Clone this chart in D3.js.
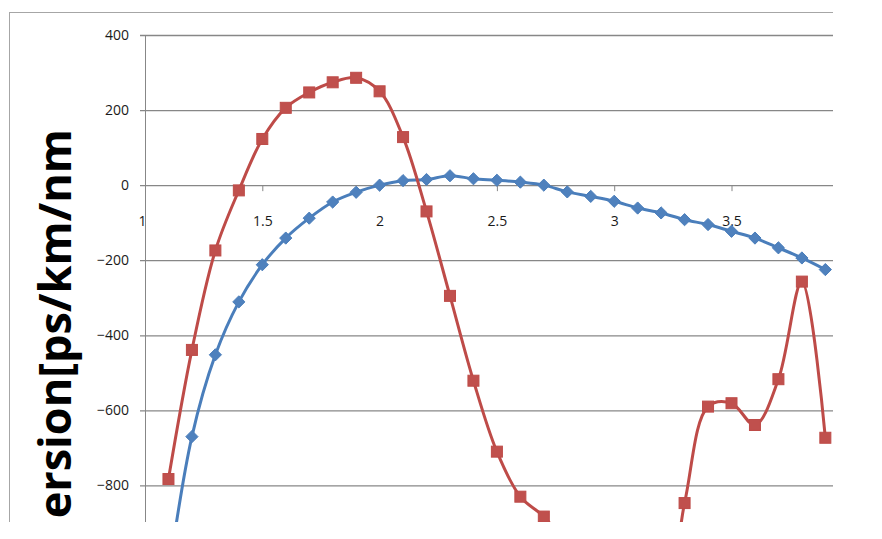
<!DOCTYPE html>
<html>
<head>
<meta charset="utf-8">
<script src="https://cdn.jsdelivr.net/npm/d3@7"></script>
<style>
  html, body { margin: 0; padding: 0; background: #fff; }
  svg { display: block; }
</style>
</head>
<body>
<svg id="chart" width="882" height="539"></svg>
<script>
// ---- data ----
const xValues = [1.1, 1.2, 1.3, 1.4, 1.5, 1.6, 1.7, 1.8, 1.9, 2.0, 2.1, 2.2, 2.3, 2.4, 2.5,
                 2.6, 2.7, 2.8, 2.9, 3.0, 3.1, 3.2, 3.3, 3.4, 3.5, 3.6, 3.7, 3.8, 3.9];
const redValues = [-783, -439, -174, -14, 123, 206, 247, 274, 286, 250, 128, -70, -295, -521, -710,
                   -830, -883, -960, -1040, -1100, -1150, -1160, -847, -590, -581, -639, -517, -257, -673];
const blueValues = [-1040, -670, -452, -311, -212, -141, -88, -45, -19, 0, 12, 15, 25, 17, 13,
                    8, 0, -18, -30, -43, -61, -74, -92, -105, -123, -141, -167, -194, -225];
const yTicks = [400, 200, 0, -200, -400, -600, -800];
const xTicks = [1, 1.5, 2, 2.5, 3, 3.5];
const xTickLabels = ["1", "1.5", "2", "2.5", "3", "3.5"];
const yTitle = "ersion[ps/km/nm";

// ---- layout ----
const svg = d3.select("#chart");
const visW = 833, visH = 522;       // visible (cropped) area
const x = d3.scaleLinear().domain([1, 4]).range([145, 848.8]);
const y = d3.scaleLinear().domain([-1000, 400]).range([560.5, 35]);

svg.append("defs").append("clipPath").attr("id", "crop")
  .append("rect").attr("x", 0).attr("y", 0).attr("width", visW).attr("height", visH);

const g = svg.append("g").attr("clip-path", "url(#crop)");

// outer chart border (top and left visible)
g.append("rect").attr("x", 9.5).attr("y", 12.5)
  .attr("width", 900).attr("height", 600)
  .attr("fill", "none").attr("stroke", "#a6a6a6").attr("stroke-width", 1);

// horizontal gridlines + y axis ticks/labels
const yAxis = d3.axisLeft(y).tickValues(yTicks).tickSize(-(x.range()[1] - x.range()[0]))
  .tickSizeOuter(0).tickFormat(d3.format("d"));
const yG = g.append("g").attr("transform", `translate(${x(1)},0)`).call(yAxis);
yG.select(".domain").attr("stroke", "#878787");
yG.selectAll(".tick line").attr("stroke", "#878787").attr("stroke-width", 1.3)
  .attr("x1", -5);
yG.selectAll(".tick text").attr("fill", "#1a1a1a").style("font-family", "'Open Sans', 'DejaVu Sans', sans-serif")
  .style("font-size", "14px").attr("x", -16);

// x axis at y=0
const xAxis = d3.axisBottom(x).tickValues(xTicks).tickSize(6).tickSizeOuter(0).tickPadding(25)
  .tickFormat((d, i) => xTickLabels[i]);
const xG = g.append("g").attr("transform", `translate(0,${y(0)})`).call(xAxis);
xG.select(".domain").remove();
xG.selectAll(".tick line").attr("stroke", "#878787");
xG.selectAll(".tick text").attr("fill", "#1a1a1a").style("font-family", "'Open Sans', 'DejaVu Sans', sans-serif")
  .style("font-size", "14px");
xG.selectAll(".tick").filter(d => d === 1).select("text").attr("dx", -3);

// series
const line = d3.line().x(d => x(d[0])).y(d => y(d[1])).curve(d3.curveCatmullRom.alpha(0.5));
const blueData = xValues.map((v, i) => [v, blueValues[i]]);
const redData = xValues.map((v, i) => [v, redValues[i]]);
const blue = "#4a7ebb", red = "#be4b48";

g.append("path").datum(blueData).attr("d", line).attr("fill", "none")
  .attr("stroke", blue).attr("stroke-width", 3);
g.append("path").datum(redData).attr("d", line).attr("fill", "none")
  .attr("stroke", red).attr("stroke-width", 3);

g.selectAll(".dia").data(blueData).enter().append("path")
  .attr("d", d3.symbol().type(d3.symbolDiamond2).size(95))
  .attr("transform", d => `translate(${x(d[0])},${y(d[1])})`)
  .attr("fill", "#4f81bd").attr("stroke", blue).attr("stroke-width", 1);

g.selectAll(".sq").data(redData).enter().append("rect")
  .attr("x", d => x(d[0]) - 5.5).attr("y", d => y(d[1]) - 5.5)
  .attr("width", 11).attr("height", 11)
  .attr("fill", "#c0504d").attr("stroke", red).attr("stroke-width", 1);

// y axis title (cropped in reference)
g.append("text")
  .attr("transform", "translate(71,129) rotate(-90)")
  .attr("text-anchor", "end")
  .style("font-family", "'Open Sans', 'DejaVu Sans', sans-serif")
  .style("font-weight", "bold").style("font-size", "45px")
  .attr("fill", "#000")
  .text(yTitle);
</script>
</body>
</html>
